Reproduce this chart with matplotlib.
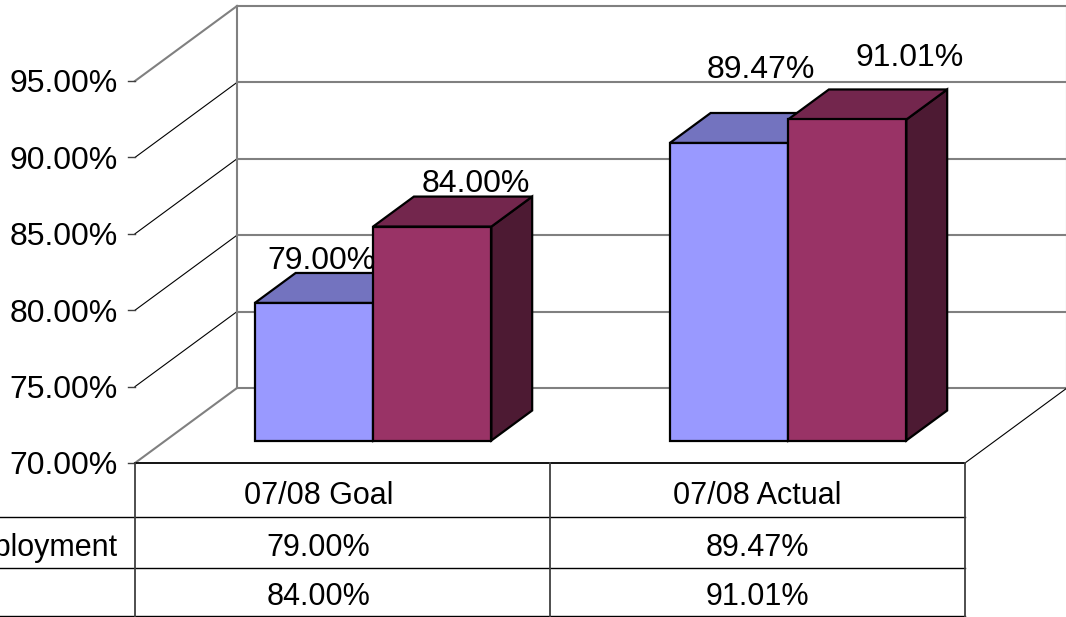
import matplotlib.pyplot as plt
from matplotlib.patches import Polygon

plt.rcParams['font.family'] = ['Liberation Sans', 'DejaVu Sans']

# data
categories = ['07/08 Goal', '07/08 Actual']
row_labels = ['Employment', '']
employment = [79.00, 89.47]
second = [84.00, 91.01]
series = [employment, second]
yticks = [70, 75, 80, 85, 90, 95]

front_cols = ['#9999FF', '#993366']
top_cols = ['#7373BF', '#73264D']
side_cols = ['#5C5C99', '#4D1A33']

# layout in pixels of the 1066x617 picture
W, H = 1066, 617
X0, UX = 135, 415.0      # px of category axis start, px per category
Y0, UY = 463, 15.28      # px of 70%, px per percent
DX = 102 / UX            # depth offset (x units)
DY = 75 / UY             # depth offset (percent units)
BW = 0.285               # bar width
Z1, Z2 = 0.3, 0.7        # bar depth range
FS = 23                  # axis / data labels
FS_TAB = 22              # table text


def px(x):
    return (x - X0) / UX


def py(y):
    return 70 - (y - Y0) / UY


fig = plt.figure(figsize=(W / 100, H / 100), dpi=100)
ax = fig.add_axes([0, 0, 1, 1])
ax.set_xlim(px(0), px(W))
ax.set_ylim(py(H), py(0))
ax.axis('off')

ncat = len(categories)
ymin, ymax = yticks[0], yticks[-1]

# walls
for v in yticks:
    c = '#808080' if v in (ymin, ymax) else 'black'
    lw = 1.5 if v in (ymin, ymax) else 0.8
    ax.plot([0, DX], [v, v + DY], color=c, lw=lw)
    ax.plot([DX, ncat + DX], [v + DY, v + DY], color='#808080', lw=1.5)
    ax.plot([px(128), 0], [v, v], color='#404040', lw=1)
    ax.text(px(118), v, f'{v:.2f}%', ha='right', va='center_baseline', fontsize=FS)
ax.plot([DX, DX], [ymin + DY, ymax + DY], color='#808080', lw=1.5)
ax.plot([ncat + DX, ncat + DX], [ymin + DY, ymax + DY], color='#808080', lw=1.5)
ax.plot([ncat, ncat + DX], [ymin, ymin + DY], color='black', lw=0.8)

# bars
label_nudge = [[(-33, 15), (-9, 46)], [(3, 16), (22, 35)]]
for i in range(ncat):
    for j, vals in enumerate(series):
        v = vals[i]
        xl = i + 0.5 + (j - 1) * BW
        xr = xl + BW
        f = lambda x, y, z: (x + z * DX, y + z * DY)
        side = [f(xr, ymin, Z1), f(xr, ymin, Z2), f(xr, v, Z2), f(xr, v, Z1)]
        top = [f(xl, v, Z1), f(xr, v, Z1), f(xr, v, Z2), f(xl, v, Z2)]
        front = [f(xl, ymin, Z1), f(xr, ymin, Z1), f(xr, v, Z1), f(xl, v, Z1)]
        for poly, col in [(side, side_cols[j]), (top, top_cols[j]), (front, front_cols[j])]:
            ax.add_patch(Polygon(poly, closed=True, facecolor=col, edgecolor='black',
                                 lw=1.6, joinstyle='miter', zorder=3))
        cx, cy = f((xl + xr) / 2, v, Z2)
        dx, dy = label_nudge[j][i]
        ax.text(cx + dx / UX, cy + dy / UY, f'{v:.2f}%', ha='center',
                va='center_baseline', fontsize=FS, zorder=4)

# data table
row_edges = [463.5, 517, 568, 615.5]
ax.plot([0, ncat], [py(row_edges[0])] * 2, color='black', lw=1.3)
for yy in row_edges[1:]:
    ax.plot([px(0), ncat], [py(yy)] * 2, color='black', lw=1)
for k in range(ncat + 1):
    ax.plot([k, k], [ymin, py(H)], color='#404040', lw=1.3)

col_shift = [-24, 0]
cells = [categories] + [[f'{v:.2f}%' for v in s] for s in series]
for r, row in enumerate(cells):
    yc = py((row_edges[r] + row_edges[r + 1]) / 2 + 2)
    for k, txt in enumerate(row):
        ax.text(k + 0.5 + col_shift[k] / UX, yc, txt, ha='center',
                va='center_baseline', fontsize=FS_TAB)
    if r > 0 and row_labels[r - 1]:
        ax.text(px(118), yc, row_labels[r - 1], ha='right',
                va='center_baseline', fontsize=FS_TAB)

fig.savefig('out.png', dpi=100)
